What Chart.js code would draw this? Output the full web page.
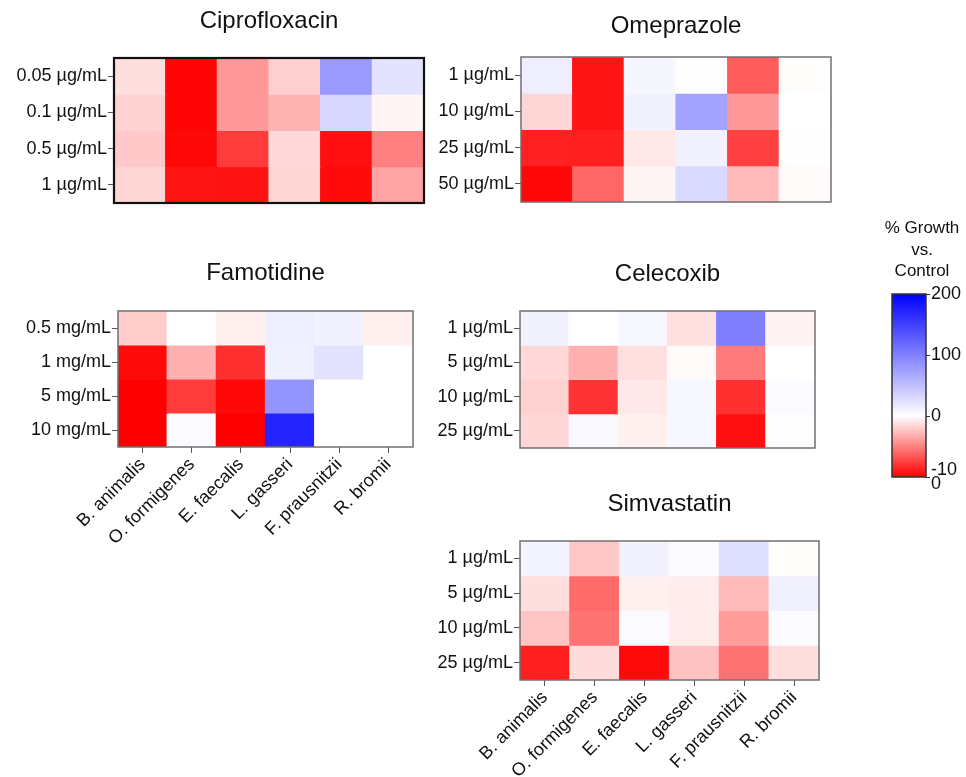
<!DOCTYPE html>
<html>
<head>
<meta charset="utf-8">
<script src="https://cdn.jsdelivr.net/npm/chart.js@4.4.1/dist/chart.umd.min.js"></script>
<style>
  html, body { margin: 0; padding: 0; background: #fff; }
  body { width: 966px; height: 777px; position: relative; overflow: hidden; }
  .box { position: absolute; }
  canvas { display: block; }
</style>
</head>
<body>
<div class="box" id="b-cipro"><canvas id="c-cipro"></canvas></div>
<div class="box" id="b-omep"><canvas id="c-omep"></canvas></div>
<div class="box" id="b-famo"><canvas id="c-famo"></canvas></div>
<div class="box" id="b-cele"><canvas id="c-cele"></canvas></div>
<div class="box" id="b-simv"><canvas id="c-simv"></canvas></div>
<div class="box" id="b-cbar"><canvas id="c-cbar"></canvas></div>
<script>
// ---------------- DATA ----------------
const bacteria = ['B. animalis', 'O. formigenes', 'E. faecalis', 'L. gasseri', 'F. prausnitzii', 'R. bromii'];

const ciproDoses = ['0.05 µg/mL', '0.1 µg/mL', '0.5 µg/mL', '1 µg/mL'];
const ciproValues = [
  [-13, -98, -40, -19, 80, 22],
  [-18, -98, -40, -30, 31, -4],
  [-21, -97, -77, -15, -94, -50],
  [-16, -92, -93, -16, -96, -36]
];

const omepDoses = ['1 µg/mL', '10 µg/mL', '25 µg/mL', '50 µg/mL'];
const omepValues = [
  [13, -92, 7, 1, -64, -1],
  [-16, -92, 10, 72, -40, 0],
  [-87, -88, -9, 11, -75, 1],
  [-97, -60, -4, 30, -27, -2]
];

const famoDoses = ['0.5 mg/mL', '1 mg/mL', '5 mg/mL', '10 mg/mL'];
const famoValues = [
  [-20, 0, -6, 13, 11, -6],
  [-96, -31, -81, 12, 22, 0],
  [-100, -77, -97, 84, 0, 0],
  [-100, 3, -100, 172, 0, 0]
];

const celeDoses = ['1 µg/mL', '5 µg/mL', '10 µg/mL', '25 µg/mL'];
const celeValues = [
  [10, 0, 6, -12, 100, -5],
  [-15, -31, -12, -2, -52, 0],
  [-18, -80, -9, 6, -81, 3],
  [-16, 5, -6, 6, -94, 1]
];

const simvDoses = ['1 µg/mL', '5 µg/mL', '10 µg/mL', '25 µg/mL'];
const simvValues = [
  [9, -22, 11, 3, 25, -1],
  [-13, -58, -6, -7, -27, 12],
  [-23, -55, 3, -7, -39, 3],
  [-88, -14, -96, -24, -55, -13]
];

const colorbarRange = [-100, 200];
const colorbarTicks = [-100, 0, 100, 200];
const colorbarTitle = ['% Growth', 'vs.', 'Control'];

// ---------------- HELPERS ----------------
Chart.defaults.font.family = "'Liberation Sans', Arial, sans-serif";
Chart.defaults.color = '#111';
Chart.defaults.animation = false;

function colorFor(v) {
  if (v < 0) {
    const t = Math.min(1, -v / 100);
    const g = Math.round(255 * (1 - t));
    return `rgb(255,${g},${g})`;
  }
  const s = Math.min(1, v / 200);
  const r = Math.round(255 * (1 - s));
  return `rgb(${r},${r},255)`;
}

const frameAndTitle = {
  id: 'frameAndTitle',
  afterDatasetsDraw(chart, args, opts) {
    const a = chart.chartArea, ctx = chart.ctx;
    ctx.save();
    ctx.strokeStyle = opts.borderColor || '#666';
    ctx.lineWidth = opts.borderWidth || 1.5;
    ctx.strokeRect(a.left, a.top, a.right - a.left, a.bottom - a.top);
    ctx.restore();
  },
  afterDraw(chart, args, opts) {
    if (!opts.lines) return;
    const a = chart.chartArea, ctx = chart.ctx;
    ctx.save();
    ctx.fillStyle = '#111';
    ctx.font = `${opts.size || 24}px 'Liberation Sans', Arial, sans-serif`;
    ctx.textAlign = 'center';
    ctx.textBaseline = 'middle';
    const cx = opts.x != null ? opts.x : (a.left + a.right) / 2;
    opts.lines.forEach((ln, i) => {
      ctx.fillText(ln, cx, opts.y[i]);
    });
    ctx.restore();
  }
};

function makeHeatmap(key, title, doses, values, g) {
  const yW = 115, padTop = 60, padRight = 5;
  const xH = g.showX ? 112 : 0;
  const padBottom = g.showX ? 5 : 15;
  const W = yW + g.w + padRight;
  const H = padTop + g.h + xH + padBottom;
  const box = document.getElementById('b-' + key);
  box.style.left = (g.left - yW) + 'px';
  box.style.top = (g.top - padTop) + 'px';
  const cv = document.getElementById('c-' + key);
  cv.width = W; cv.height = H;
  cv.style.width = W + 'px'; cv.style.height = H + 'px';

  const datasets = doses.map((d, i) => ({
    label: d,
    data: bacteria.map((b, j) => ({ x: b, y: [i, i + 1], v: values[i][j] })),
    backgroundColor: ctx => colorFor(ctx.raw.v),
    borderWidth: 0,
    inflateAmount: 0.6,
    barPercentage: 1,
    categoryPercentage: 1
  }));

  new Chart(cv, {
    type: 'bar',
    data: { labels: bacteria, datasets },
    options: {
      responsive: false,
      devicePixelRatio: 1,
      layout: { padding: { left: 0, top: padTop, right: padRight, bottom: padBottom } },
      plugins: {
        legend: { display: false },
        tooltip: { enabled: false },
        frameAndTitle: {
          borderColor: g.border, borderWidth: g.bw,
          lines: [title], y: [padTop - g.titleOff], size: 24
        }
      },
      scales: {
        x: {
          type: 'category',
          stacked: true,
          display: g.showX,
          offset: true,
          border: { display: false },
          grid: { display: true, drawOnChartArea: false, offset: false, tickLength: 6, color: '#555', tickWidth: 1 },
          ticks: { minRotation: 45, maxRotation: 45, autoSkip: false, padding: 1, font: { size: 18 }, color: '#111' },
          afterFit: s => { s.height = xH; }
        },
        y: {
          type: 'linear',
          min: 0, max: doses.length,
          reverse: true,
          border: { display: false },
          grid: { display: true, drawOnChartArea: false, tickLength: 6, color: '#555', tickWidth: 1 },
          afterBuildTicks: s => { s.ticks = doses.map((d, i) => ({ value: i + 0.5 })); },
          ticks: {
            autoSkip: false,
            padding: 1,
            font: { size: 18 },
            color: '#111',
            callback: v => doses[Math.floor(v)]
          },
          afterFit: s => { s.width = yW; }
        }
      }
    },
    plugins: [frameAndTitle]
  });
}

makeHeatmap('cipro', 'Ciprofloxacin', ciproDoses, ciproValues,
  { left: 114, top: 58, w: 310, h: 145, showX: false, border: '#111', bw: 2.2, titleOff: 37 });
makeHeatmap('omep', 'Omeprazole', omepDoses, omepValues,
  { left: 521, top: 57, w: 310, h: 145, showX: false, border: '#707070', bw: 1.5, titleOff: 31 });
makeHeatmap('famo', 'Famotidine', famoDoses, famoValues,
  { left: 118, top: 311, w: 295, h: 136, showX: true, border: '#707070', bw: 1.5, titleOff: 38 });
makeHeatmap('cele', 'Celecoxib', celeDoses, celeValues,
  { left: 520, top: 311, w: 295, h: 137, showX: false, border: '#707070', bw: 1.5, titleOff: 37 });
makeHeatmap('simv', 'Simvastatin', simvDoses, simvValues,
  { left: 520, top: 541, w: 299, h: 139, showX: true, border: '#707070', bw: 1.5, titleOff: 37 });

// ---------------- COLOR BAR ----------------
(function () {
  const padLeft = 10, padTop = 80, barW = 34, barH = 183, axW = 40, padBottom = 20;
  const left = 892, top = 294;
  const W = padLeft + barW + axW, H = padTop + barH + padBottom;
  const box = document.getElementById('b-cbar');
  box.style.left = (left - padLeft) + 'px';
  box.style.top = (top - padTop) + 'px';
  const cv = document.getElementById('c-cbar');
  cv.width = W; cv.height = H;
  cv.style.width = W + 'px'; cv.style.height = H + 'px';

  function grad(ctx) {
    const chart = ctx.chart;
    const a = chart.chartArea;
    if (!a) return '#fff';
    const ys = chart.scales.y;
    const g = chart.ctx.createLinearGradient(0, ys.getPixelForValue(colorbarRange[1]), 0, ys.getPixelForValue(colorbarRange[0]));
    const span = colorbarRange[1] - colorbarRange[0];
    [200, 100, 0, -50, -100].forEach(v => {
      g.addColorStop((colorbarRange[1] - v) / span, colorFor(v));
    });
    return g;
  }

  new Chart(cv, {
    type: 'bar',
    data: {
      labels: ['scale'],
      datasets: [{
        data: [colorbarRange],
        backgroundColor: grad,
        borderWidth: 0,
        inflateAmount: 0.6,
        barPercentage: 1,
        categoryPercentage: 1
      }]
    },
    options: {
      responsive: false,
      devicePixelRatio: 1,
      layout: { padding: { left: padLeft, top: padTop, right: 0, bottom: padBottom } },
      plugins: {
        legend: { display: false },
        tooltip: { enabled: false },
        frameAndTitle: {
          borderColor: '#333', borderWidth: 1.5,
          lines: colorbarTitle, x: padLeft + 30, y: [14, 36, 57], size: 17
        }
      },
      scales: {
        x: { display: false },
        y: {
          position: 'right',
          min: colorbarRange[0], max: colorbarRange[1],
          border: { display: false },
          grid: { display: true, drawOnChartArea: false, tickLength: 4, color: '#333' },
          afterBuildTicks: s => { s.ticks = colorbarTicks.map(v => ({ value: v })); },
          ticks: {
            padding: 1,
            font: { size: 18, lineHeight: 0.75 },
            color: '#111',
            callback: v => (v === -100 ? ['-10', '0'] : String(v))
          },
          afterFit: s => { s.width = axW; }
        }
      }
    },
    plugins: [frameAndTitle]
  });
})();
</script>
</body>
</html>
